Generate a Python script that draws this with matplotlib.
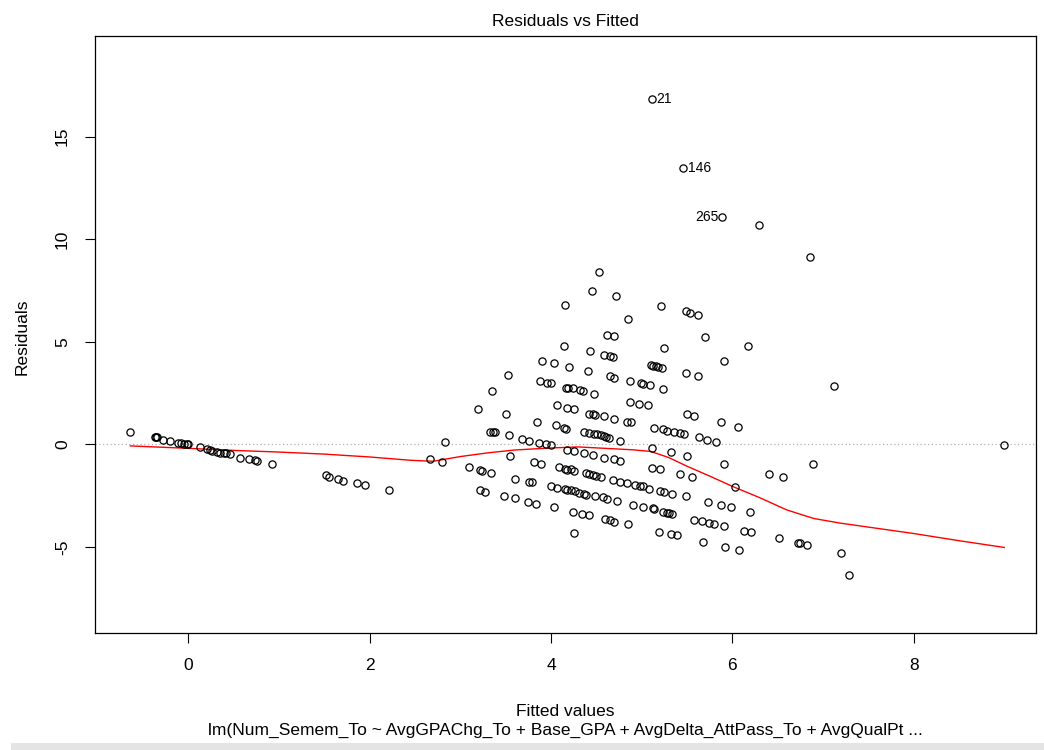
import matplotlib
matplotlib.use("Agg")
import matplotlib.pyplot as plt
from matplotlib.patches import Rectangle

plt.rcParams['font.family'] = ['Liberation Sans', 'DejaVu Sans']

# points (fitted, residual)
pts_left = [(-0.64,0.58),(-0.37,0.36),(-0.36,0.35),(-0.35,0.33),(-0.28,0.23),(-0.20,0.16),(-0.11,0.08),(-0.08,0.06),
            (-0.05,0.03),(-0.02,0.01),(0.0,-0.01),(0.125,-0.13),(0.21,-0.23),(0.24,-0.28),(0.26,-0.31),(0.32,-0.36),
            (0.35,-0.41),(0.39,-0.44),(0.42,-0.45),(0.46,-0.49),(0.57,-0.65),(0.67,-0.71),(0.74,-0.79),(0.76,-0.83),
            (0.92,-0.96),(1.52,-1.52),(1.55,-1.61),(1.65,-1.67),(1.71,-1.77),(1.86,-1.91),(1.95,-2.0),(2.21,-2.25)]
pts_mid = [(2.67,-0.70),(2.80,-0.86),(2.83,0.11),(3.10,-1.13),(3.20,1.74),(3.22,-1.27),(3.24,-1.30),(3.34,-1.40),
           (3.22,-2.24),(3.27,-2.34),(3.33,0.60),(3.36,0.60),(3.38,0.60),(3.35,2.60),(3.48,-2.53),(3.50,1.46),
           (3.53,3.39),(3.54,0.44),(3.55,-0.58),(3.60,-1.67),(3.60,-2.64),(3.68,0.26),(3.75,-2.81),(3.76,0.16),
           (3.76,-1.83),(3.79,-1.83),(3.81,-0.86),(3.83,-2.92),(3.85,1.09),(3.87,0.06),(3.88,3.08),(3.89,-0.94),
           (3.90,4.05),(3.94,0.03),(3.96,2.98),(4.00,2.97),(4.00,-0.03),(4.00,-2.04),(4.03,3.94),(4.03,-3.08),
           (4.05,0.96),(4.07,1.90),(4.07,-2.11),(4.09,-1.13),(4.14,4.80),(4.14,0.79),(4.15,6.80),(4.15,-1.22),
           (4.15,-2.19),(4.16,2.76),(4.17,0.76),(4.18,1.79),(4.18,-0.26),(4.18,-1.27),(4.18,-2.21),(4.19,2.76),
           (4.20,3.78),(4.22,-1.23),(4.22,-2.24),(4.24,2.74),(4.24,-3.29),(4.25,1.72),(4.25,-0.33),(4.25,-1.30),
           (4.25,-4.31),(4.26,-2.30),(4.31,-2.37),(4.32,2.64),(4.34,-3.41),(4.35,2.59),(4.36,0.60),(4.36,-0.42),
           (4.36,-2.43),(4.39,-1.40),(4.39,-2.47),(4.41,3.57),(4.42,-1.46),(4.42,-3.46),(4.42,0.54),(4.42,1.49),
           (4.43,4.54),(4.45,7.49),(4.46,1.47),(4.46,-0.54),(4.46,-1.51),(4.47,2.46),(4.47,0.50),(4.49,1.45),
           (4.49,-2.53),(4.50,-1.56),(4.51,0.49),(4.53,8.42),(4.55,0.44),(4.55,-1.62),(4.57,-2.59),(4.58,4.36),
           (4.58,1.36),(4.58,0.40),(4.58,-0.65),(4.60,-3.62),(4.61,0.34),(4.62,5.35),(4.62,-2.66),(4.64,0.31),
           (4.65,4.30),(4.65,3.31),(4.65,-3.70),(4.68,4.25),(4.68,-1.72),(4.69,5.29),(4.69,3.25),(4.69,1.25),
           (4.69,-0.74),(4.69,-3.78),(4.72,7.22),(4.73,-2.76),(4.76,0.16),(4.76,-0.81),(4.76,-1.83)]
pts_right = [(4.84,1.07),(4.84,-1.88),(4.85,6.10),(4.85,-3.89),(4.87,3.08),(4.87,2.06),(4.88,1.07),(4.91,-2.97),
             (4.93,-2.0),(4.97,1.98),(4.98,-2.04),(4.99,2.98),(5.02,2.94),(5.02,-2.04),(5.02,-3.08),(5.07,1.90),
             (5.08,-2.16),(5.09,2.87),(5.10,3.84),(5.11,16.84),(5.11,-0.18),(5.11,-1.18),(5.12,-3.13),(5.13,3.83),
             (5.14,0.81),(5.14,-3.16),(5.16,3.80),(5.18,3.76),(5.19,-4.27),(5.20,-1.23),(5.20,-2.27),(5.21,6.75),
             (5.22,3.71),(5.23,0.72),(5.23,-3.29),(5.24,2.71),(5.25,4.71),(5.25,-2.32),(5.28,0.65),(5.28,-3.34),
             (5.30,-3.37),(5.32,-0.37),(5.32,-4.38),(5.33,-3.41),(5.34,-2.43),(5.36,0.60),(5.39,-4.43),(5.42,0.55),
             (5.42,-1.46),(5.46,13.49),(5.47,0.49),(5.49,6.49),(5.49,3.45),(5.49,-2.53),(5.50,1.46),(5.50,-0.58),
             (5.53,6.42),(5.55,-1.62),(5.58,1.36),(5.58,-3.67),(5.62,6.31),(5.62,3.34),(5.63,0.33),(5.67,-3.74),
             (5.68,-4.75),(5.70,5.24),(5.72,0.23),(5.73,-2.81),(5.74,-3.83),(5.80,-3.89),(5.82,0.11),(5.87,1.07),
             (5.88,-2.97),(5.89,11.06),(5.91,4.05),(5.91,-0.97),(5.91,-3.99),(5.92,-5.0),(5.99,-3.05),(6.03,-2.07),
             (6.06,0.86),(6.07,-5.13),(6.13,-4.22),(6.17,4.79),(6.20,-3.29),(6.21,-4.27),(6.29,10.67),(6.40,-1.46),
             (6.52,-4.59),(6.56,-1.62),(6.72,-4.80),(6.75,-4.83),(6.82,-4.91),(6.86,9.12),(6.89,-0.96),(7.12,2.82),
             (7.20,-5.29),(7.29,-6.37),(9.0,-0.05)]

# smoother (red line)
smooth_x = [-0.64, 0.0, 0.5, 1.0, 1.5, 2.0, 2.45, 2.7, 3.0, 3.3, 3.6, 4.0, 4.3, 4.6, 4.9, 5.1, 5.3, 5.5,
            5.75, 6.0, 6.3, 6.6, 6.9, 7.2, 7.6, 8.0, 8.5, 9.0]
smooth_y = [-0.08, -0.2, -0.3, -0.38, -0.48, -0.62, -0.78, -0.83, -0.6, -0.42, -0.28, -0.18, -0.13, -0.2,
            -0.27, -0.35, -0.65, -1.07, -1.55, -2.05, -2.6, -3.2, -3.62, -3.85, -4.1, -4.35, -4.7, -5.03]

# labelled outliers
label_x = [5.11, 5.46, 5.89]
label_y = [16.84, 13.49, 11.06]
label_txt = ["21", "146", "265"]
label_side = ["right", "right", "left"]

x_ticks = [0, 2, 4, 6, 8]
y_ticks = [-5, 0, 5, 10, 15]

title = "Residuals vs Fitted"
xlabel = "Fitted values"
ylabel = "Residuals"
caption = "lm(Num_Semem_To ~ AvgGPAChg_To + Base_GPA + AvgDelta_AttPass_To + AvgQualPt ..."

pts = pts_left + pts_mid + pts_right
fx = [p[0] for p in pts]
ry = [p[1] for p in pts]

FS = 12.5

fig = plt.figure(figsize=(10.44, 7.5), dpi=100)
ax = fig.add_axes([95/1044, 1 - 633/750, (1036 - 95)/1044, (633 - 36)/750])

ax.axhline(0, color='#b0b0b0', linestyle=(0, (1, 2)), linewidth=0.9, zorder=1)
ax.plot(fx, ry, linestyle='none', marker='o', markersize=5.2, markerfacecolor='none',
        markeredgecolor='black', markeredgewidth=0.9, zorder=3)
ax.plot(smooth_x, smooth_y, color='red', linewidth=1.0, zorder=2)

for lx, ly, t, side in zip(label_x, label_y, label_txt, label_side):
    if side == "right":
        ax.annotate(t, (lx, ly), xytext=(3, 0), textcoords='offset points', ha='left', va='center', fontsize=10)
    else:
        ax.annotate(t, (lx, ly), xytext=(-3, 0), textcoords='offset points', ha='right', va='center', fontsize=10)

ax.set_xlim(-1.03, 9.35)
ax.set_ylim(-9.2, 19.9)
ax.set_xticks(x_ticks)
ax.set_yticks(y_ticks)
ax.set_xticklabels([str(v) for v in x_ticks], fontsize=FS)
ax.set_yticklabels([str(v) for v in y_ticks], fontsize=FS, rotation=90, va='center')
ax.tick_params(axis='both', direction='out', length=7, width=0.8, pad=11)
for s in ax.spines.values():
    s.set_linewidth(0.9)

fig.text((95 + 1036) / 2 / 1044, 1 - 21 / 750, title, ha='center', va='center', fontsize=FS)
fig.text((95 + 1036) / 2 / 1044, 1 - 711 / 750, xlabel, ha='center', va='center', fontsize=FS)
fig.text((95 + 1036) / 2 / 1044, 1 - 730 / 750, caption, ha='center', va='center', fontsize=FS)
fig.text(22 / 1044, 1 - 337 / 750, ylabel, ha='center', va='center', rotation=90, fontsize=FS)

fig.patches.append(Rectangle((11 / 1044, 0), 1, 7 / 750, transform=fig.transFigure, facecolor='#e4e4e4',
                             edgecolor='none', zorder=0))

fig.savefig("out.png", dpi=100)
